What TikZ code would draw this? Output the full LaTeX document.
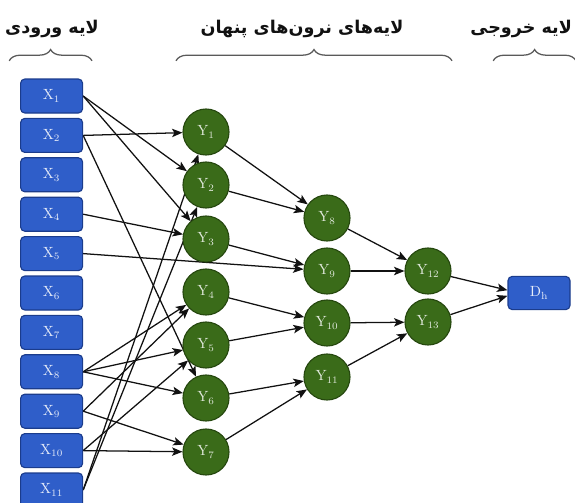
\documentclass[tikz,border=0pt]{standalone}
\usepackage{fontspec}
\usetikzlibrary{arrows.meta,decorations.pathreplacing}
\newfontfamily\farsifont[Script=Arabic]{DejaVu Sans}
\TeXXeTstate=1
\definecolor{cInk}{HTML}{111111}
\definecolor{cInput}{HTML}{2F5EC9}
\definecolor{cInputDk}{HTML}{1B3C8C}
\definecolor{cHidden}{HTML}{3A6B19}
\definecolor{cHiddenDk}{HTML}{26480F}
\definecolor{cBrace}{HTML}{5A5A5A}
\pgfdeclarelayer{edges}
\pgfsetlayers{edges,main}

\begin{document}
\begin{tikzpicture}[
      xbox/.style={draw=cInputDk,fill=cInput,rounded corners=3pt,line width=0.8pt,
                   minimum width=1.55cm,minimum height=0.85cm,inner sep=0pt,
                   text=white!88!cInput,font=\fontsize{10.5}{12}\selectfont},
      neuron/.style={circle,draw=cHiddenDk,fill=cHidden,line width=0.8pt,
                     minimum size=1.15cm,inner sep=0pt,
                     text=white!85!cHidden,font=\fontsize{10.5}{12}\selectfont},
      arr/.style={-{Stealth[length=2.6mm,width=2.1mm,inset=0.6mm]},cInk,line width=0.9pt},
      brc/.style={decorate,decoration={brace,amplitude=8pt},cBrace,line width=0.9pt},
      lab/.style={font=\farsifont\bfseries\fontsize{12.5}{15}\selectfont,text=cInk}]
    \useasboundingbox (0,0) rectangle (14.375,-12.55);
    % layer titles
    \node[lab] (tin)  at (1.30,-0.72)  {\beginR لایه ورودی\endR};
    \node[lab] (thid) at (7.55,-0.72)  {\beginR لایه^^^^200cهای نرون^^^^200cهای پنهان\endR};
    \node[lab] (tout) at (13.03,-0.72) {\beginR لایه خروجی\endR};
    \coordinate (bin1) at (0.23,-1.52);  \coordinate (bin2) at (2.30,-1.52);
    \coordinate (bhid1) at (4.40,-1.52); \coordinate (bhid2) at (11.30,-1.52);
    \coordinate (bout1) at (12.33,-1.52); \coordinate (bout2) at (14.40,-1.52);
    \draw[brc] (bin1) -- (bin2);
    \draw[brc] (bhid1) -- (bhid2);
    \draw[brc] (bout1) -- (bout2);
    % input layer
    \node[xbox] (x1)  at (1.29,-2.400)  {X$_{1}$};
    \node[xbox] (x2)  at (1.29,-3.385)  {X$_{2}$};
    \node[xbox] (x3)  at (1.29,-4.370)  {X$_{3}$};
    \node[xbox] (x4)  at (1.29,-5.355)  {X$_{4}$};
    \node[xbox] (x5)  at (1.29,-6.340)  {X$_{5}$};
    \node[xbox] (x6)  at (1.29,-7.325)  {X$_{6}$};
    \node[xbox] (x7)  at (1.29,-8.310)  {X$_{7}$};
    \node[xbox] (x8)  at (1.29,-9.295)  {X$_{8}$};
    \node[xbox] (x9)  at (1.29,-10.280) {X$_{9}$};
    \node[xbox] (x10) at (1.29,-11.265) {X$_{10}$};
    \node[xbox] (x11) at (1.29,-12.250) {X$_{11}$};
    % hidden layers
    \node[neuron] (y1) at (5.15,-3.300)  {Y$_{1}$};
    \node[neuron] (y2) at (5.15,-4.625)  {Y$_{2}$};
    \node[neuron] (y3) at (5.15,-5.975)  {Y$_{3}$};
    \node[neuron] (y4) at (5.15,-7.300)  {Y$_{4}$};
    \node[neuron] (y5) at (5.15,-8.625)  {Y$_{5}$};
    \node[neuron] (y6) at (5.15,-9.950)  {Y$_{6}$};
    \node[neuron] (y7) at (5.15,-11.300) {Y$_{7}$};
    \node[neuron] (y8)  at (8.175,-5.450) {Y$_{8}$};
    \node[neuron] (y9)  at (8.175,-6.775) {Y$_{9}$};
    \node[neuron] (y10) at (8.175,-8.075) {Y$_{10}$};
    \node[neuron] (y11) at (8.175,-9.425) {Y$_{11}$};
    \node[neuron] (y12) at (10.70,-6.775) {Y$_{12}$};
    \node[neuron] (y13) at (10.70,-8.050) {Y$_{13}$};
    % output layer
    \node[xbox,minimum height=0.83cm] (dh) at (13.475,-7.325) {D$_{\mathrm{h}}$};
    \begin{pgfonlayer}{edges}
    % input -> first hidden
    \draw[arr] (x1.east) -- (y2); \draw[arr] (x1.east) -- (y3);
    \draw[arr] (x2.east) -- (y1); \draw[arr] (x2.east) -- (y6);
    \draw[arr] (x4.east) -- (y3);
    \draw[arr] (x5.east) -- (y9);
    \draw[arr] (x8.east) -- (y4); \draw[arr] (x8.east) -- (y5); \draw[arr] (x8.east) -- (y6);
    \draw[arr] (x9.east) -- (y4); \draw[arr] (x9.east) -- (y7);
    \draw[arr] (x10.east) -- (y5); \draw[arr] (x10.east) -- (y7);
    \draw[arr] (x11.east) -- (y1); \draw[arr] (x11.east) -- (y2);
    % hidden -> hidden
    \draw[arr] (y1) -- (y8); \draw[arr] (y2) -- (y8);
    \draw[arr] (y3) -- (y9);
    \draw[arr] (y4) -- (y10); \draw[arr] (y5) -- (y10);
    \draw[arr] (y6) -- (y11); \draw[arr] (y7) -- (y11);
    \draw[arr] (y8) -- (y12); \draw[arr] (y9) -- (y12);
    \draw[arr] (y10) -- (y13); \draw[arr] (y11) -- (y13);
    % hidden -> output
    \draw[arr] (y12) -- ([yshift=2pt]dh.west);
    \draw[arr] (y13) -- ([yshift=-2pt]dh.west);
    \end{pgfonlayer}
  \end{tikzpicture}
\end{document}
